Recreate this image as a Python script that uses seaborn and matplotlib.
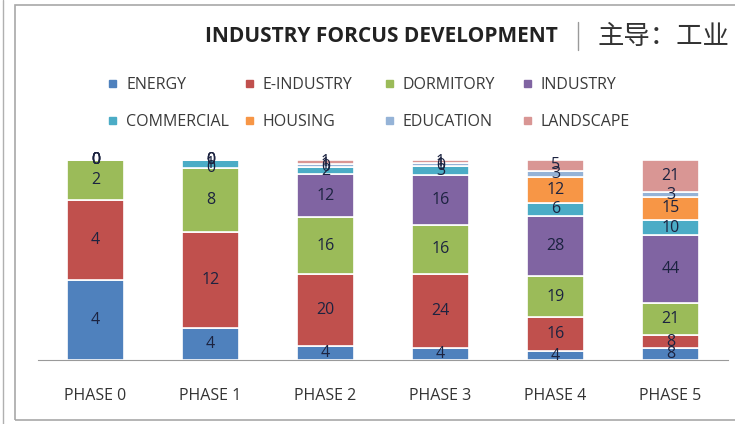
import numpy as np
import pandas as pd
import matplotlib.pyplot as plt
import seaborn as sns
from matplotlib.patches import Rectangle
from matplotlib.lines import Line2D

phases = ["PHASE 0", "PHASE 1", "PHASE 2", "PHASE 3", "PHASE 4", "PHASE 5"]
series = ["ENERGY", "E-INDUSTRY", "DORMITORY", "INDUSTRY",
          "COMMERCIAL", "HOUSING", "EDUCATION", "LANDSCAPE"]

energy = [4, 4, 4, 4, 4, 8]
e_industry = [4, 12, 20, 24, 16, 8]
dormitory = [2, 8, 16, 16, 19, 21]
industry = [0, 0, 12, 16, 28, 44]
commercial = [0, 1, 2, 3, 6, 10]
housing = [0, 0, 0, 0, 12, 15]
education = [0, 0, 1, 1, 3, 3]
landscape = [0, 0, 1, 1, 5, 21]

colors = ["#4F81BD", "#C0504D", "#9BBB59", "#8064A2",
          "#4BACC6", "#F79646", "#95B3D7", "#D99694"]

df = pd.DataFrame([energy, e_industry, dormitory, industry,
                   commercial, housing, education, landscape],
                  index=series, columns=phases)
pct = df / df.sum(axis=0) * 100

sns.set_style("white")
plt.rcParams['font.family'] = ['Open Sans', 'Noto Sans CJK SC', 'DejaVu Sans']

W, H = 735, 424
fig = plt.figure(figsize=(W / 100, H / 100), dpi=100)
ax = fig.add_axes([38 / W, 1 - 360 / H, 690 / W, 200 / H])

bottom = np.zeros(len(phases))
for name, col in zip(series, colors):
    sns.barplot(x=phases, y=pct.loc[name].values, bottom=bottom, color=col,
                width=0.5, ax=ax, edgecolor="white", linewidth=1.2,
                saturation=1)
    for i, (v, b, h) in enumerate(zip(df.loc[name].values, bottom, pct.loc[name].values)):
        ax.text(i, b + h / 2, str(v), ha="center", va="center",
                fontsize=11.5, color="#1c2340")
    bottom = bottom + pct.loc[name].values

ax.set_xlim(-0.5, 5.5)
ax.set_ylim(0, 100)
ax.set_yticks([])
ax.set_ylabel("")
sns.despine(ax=ax, left=True)
ax.spines["bottom"].set_color("#9a9a9a")
ax.tick_params(axis="x", length=0, pad=20, labelsize=11.5, labelcolor="#333333")

# legend, laid out row by row as in the original
leg_x = [113, 250, 390, 528]
leg_y = [83, 120]
for k, (name, col) in enumerate(zip(series, colors)):
    x = leg_x[k % 4]
    y = leg_y[k // 4]
    fig.add_artist(Rectangle(((x - 4) / W, 1 - (y + 4) / H), 7 / W, 7 / H,
                             color=col, transform=fig.transFigure))
    fig.text((x + 13) / W, 1 - (y + 2) / H, name, fontsize=11.5, color="#3a3a3a",
             va="center", ha="left")

# title
fig.text(205 / W, 1 - 36 / H, "INDUSTRY FORCUS DEVELOPMENT", fontsize=15,
         fontweight="bold", color="#222222", va="center", ha="left")
fig.add_artist(Line2D([578 / W, 578 / W], [1 - 22 / H, 1 - 50 / H],
                      color="#9a9a9a", lw=1))
fig.text(598 / W, 1 - 37 / H, "主导：工业", fontsize=19,
         color="#333333", va="center", ha="left",
         family=['Noto Sans CJK SC', 'DejaVu Sans'], fontweight="light")

# frame from the screenshot
fig.add_artist(Line2D([3 / W, 3 / W], [0, 1], color="#b0b0b0", lw=1))
fig.add_artist(Rectangle((15 / W, 4 / H), 740 / W, 415 / H,
                         fill=False, edgecolor="#a8a8a8", lw=1.2,
                         transform=fig.transFigure))

fig.savefig("out.png", dpi=100)
